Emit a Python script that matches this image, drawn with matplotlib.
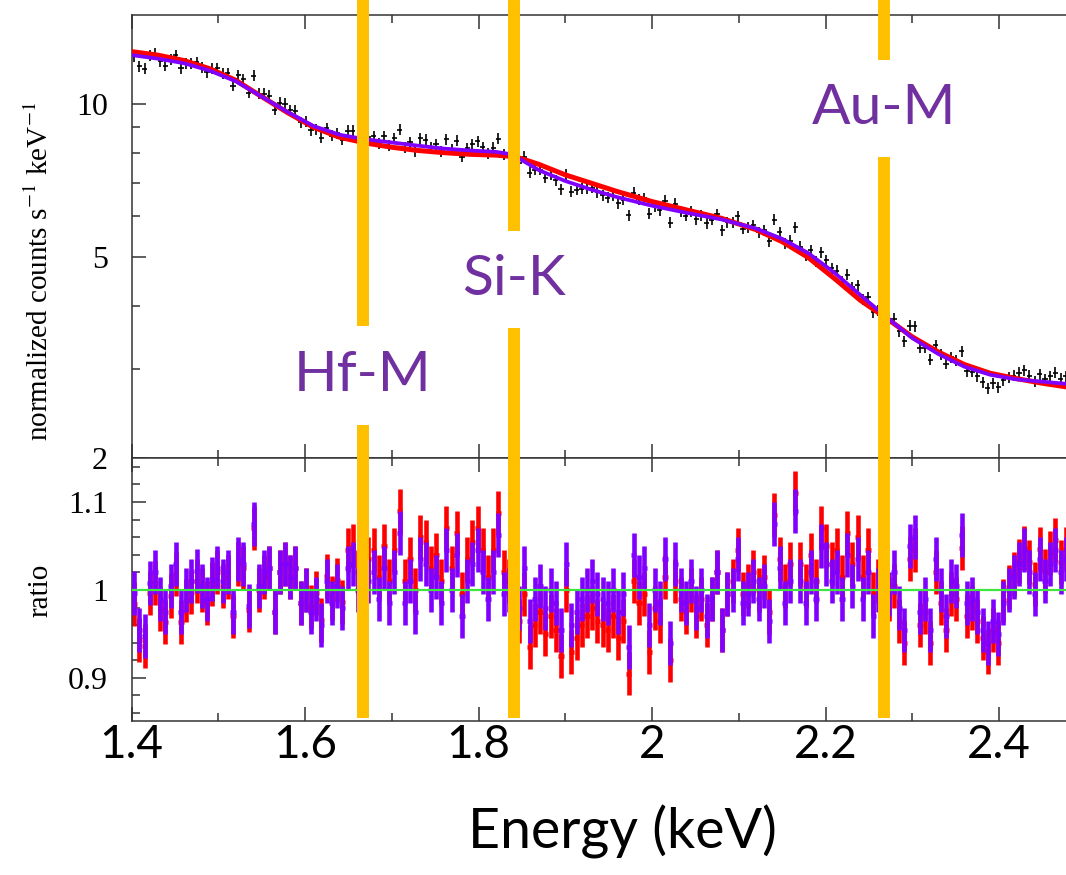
import matplotlib
matplotlib.use('Agg')
import matplotlib.pyplot as plt
import numpy as np
from matplotlib.lines import Line2D
from matplotlib.ticker import FixedLocator, MultipleLocator, NullFormatter, FuncFormatter
from matplotlib.transforms import blended_transform_factory

plt.rcParams['mathtext.fontset'] = 'stix'

# spectrum bins (keV)
energy = [
    1.403, 1.409, 1.415, 1.421, 1.427, 1.433, 1.439, 1.445, 1.451, 1.457,
    1.463, 1.469, 1.475, 1.481, 1.487, 1.493, 1.499, 1.505, 1.511, 1.517,
    1.523, 1.529, 1.535, 1.541, 1.547, 1.553, 1.559, 1.565, 1.571, 1.577,
    1.583, 1.589, 1.595, 1.601, 1.607, 1.613, 1.619, 1.625, 1.631, 1.637,
    1.643, 1.649, 1.655, 1.661, 1.667, 1.673, 1.679, 1.685, 1.691, 1.697,
    1.703, 1.709, 1.715, 1.721, 1.727, 1.733, 1.739, 1.745, 1.751, 1.757,
    1.763, 1.769, 1.775, 1.781, 1.787, 1.793, 1.799, 1.805, 1.811, 1.817,
    1.823, 1.829, 1.835, 1.841, 1.847, 1.853, 1.859, 1.865, 1.871, 1.877,
    1.883, 1.889, 1.895, 1.901, 1.907, 1.913, 1.919, 1.925, 1.931, 1.937,
    1.943, 1.949, 1.955, 1.961, 1.967, 1.973, 1.979, 1.985, 1.991, 1.997,
    2.003, 2.009, 2.015, 2.021, 2.027, 2.033, 2.039, 2.045, 2.051, 2.057,
    2.063, 2.069, 2.075, 2.081, 2.087, 2.093, 2.099, 2.105, 2.111, 2.117,
    2.123, 2.129, 2.135, 2.141, 2.147, 2.153, 2.159, 2.165, 2.171, 2.177,
    2.183, 2.189, 2.195, 2.201, 2.207, 2.213, 2.219, 2.225, 2.231, 2.237,
    2.243, 2.249, 2.255, 2.261, 2.267, 2.273, 2.279, 2.285, 2.291, 2.297,
    2.303, 2.309, 2.315, 2.321, 2.327, 2.333, 2.339, 2.345, 2.351, 2.357,
    2.363, 2.369, 2.375, 2.381, 2.387, 2.393, 2.399, 2.405, 2.411, 2.417,
    2.423, 2.429, 2.435, 2.441, 2.447, 2.453, 2.459, 2.465, 2.471, 2.477,
]

# normalized counts s^-1 keV^-1
counts = [
    12.43, 11.88, 11.76, 12.46, 12.57, 12.16, 11.90, 12.24, 12.48, 11.78,
    12.01, 12.05, 12.11, 11.83, 11.57, 11.74, 11.78, 11.49, 11.50, 10.88,
    11.42, 11.21, 10.54, 11.37, 10.48, 10.49, 10.39, 9.75, 10.06, 10.01,
    9.73, 9.71, 9.21, 9.23, 8.88, 8.93, 8.59, 8.97, 8.67, 8.77,
    8.51, 8.86, 8.87, 8.57, 8.70, 8.60, 8.65, 8.38, 8.65, 8.28,
    8.56, 8.90, 8.21, 8.40, 8.08, 8.56, 8.50, 8.23, 8.33, 8.06,
    8.53, 8.15, 8.46, 7.88, 8.19, 8.33, 8.44, 8.23, 7.98, 8.21,
    8.54, 7.96, 7.97, 7.85, 7.65, 7.88, 7.32, 7.42, 7.42, 7.16,
    7.25, 7.07, 6.79, 7.25, 6.71, 6.77, 6.81, 6.83, 6.84, 6.70,
    6.61, 6.53, 6.59, 6.38, 6.47, 6.04, 6.69, 6.49, 6.52, 6.07,
    6.29, 6.17, 6.45, 5.83, 6.36, 6.13, 6.02, 6.14, 5.93, 6.02,
    5.82, 5.91, 6.06, 5.64, 5.85, 5.84, 6.00, 5.68, 5.70, 5.76,
    5.59, 5.63, 5.36, 5.91, 5.59, 5.31, 5.37, 5.72, 5.23, 5.03,
    5.14, 4.90, 5.10, 4.92, 4.74, 4.69, 4.46, 4.60, 4.35, 4.39,
    4.12, 4.16, 3.88, 3.92, 3.86, 3.75, 3.77, 3.56, 3.40, 3.65,
    3.64, 3.30, 3.30, 3.13, 3.34, 3.21, 3.07, 3.16, 3.12, 3.25,
    2.97, 2.96, 2.90, 2.82, 2.75, 2.81, 2.76, 2.85, 2.88, 2.91,
    2.95, 2.98, 2.91, 2.83, 2.93, 2.86, 2.90, 2.95, 2.87, 2.90,
]

# data / model, purple model
ratio_purple = [
    0.996, 0.955, 0.948, 1.008, 1.020, 0.990, 0.975, 1.005, 1.030, 0.975,
    1.000, 1.010, 1.022, 1.005, 0.990, 1.012, 1.025, 1.010, 1.020, 0.975,
    1.035, 1.030, 0.982, 1.075, 1.005, 1.020, 1.025, 0.975, 1.020, 1.030,
    1.015, 1.025, 0.985, 1.000, 0.975, 0.990, 0.960, 1.010, 0.985, 1.005,
    0.980, 1.025, 1.030, 1.000, 1.020, 1.010, 1.020, 0.990, 1.025, 0.985,
    1.020, 1.065, 0.985, 1.010, 0.975, 1.035, 1.030, 1.000, 1.015, 0.985,
    1.045, 1.000, 1.040, 0.970, 1.010, 1.030, 1.045, 1.020, 0.990, 1.020,
    1.062, 0.995, 1.000, 0.990, 0.980, 1.025, 0.965, 0.990, 1.005, 0.980,
    1.000, 0.985, 0.955, 1.030, 0.960, 0.975, 0.990, 1.000, 1.010, 0.995,
    0.990, 0.985, 1.000, 0.975, 0.995, 0.935, 1.040, 1.015, 1.025, 0.960,
    1.000, 0.985, 1.035, 0.940, 1.030, 1.000, 0.985, 1.010, 0.980, 1.000,
    0.970, 0.990, 1.020, 0.955, 0.995, 1.000, 1.035, 0.985, 0.995, 1.010,
    0.990, 1.005, 0.965, 1.075, 1.025, 0.985, 1.010, 1.090, 1.010, 0.985,
    1.020, 0.990, 1.050, 1.030, 1.010, 1.020, 0.990, 1.040, 1.005, 1.035,
    0.990, 1.020, 0.970, 1.000, 1.005, 0.995, 1.020, 0.980, 0.955, 1.050,
    1.060, 0.975, 0.990, 0.955, 1.035, 1.000, 0.970, 1.010, 1.005, 1.063,
    0.985, 0.990, 0.975, 0.955, 0.940, 0.965, 0.950, 0.985, 1.000, 1.015,
    1.030, 1.045, 1.020, 0.995, 1.035, 1.010, 1.030, 1.045, 1.020, 1.035,
]

# data / model, red model
ratio_red = [
    0.984, 0.943, 0.936, 0.996, 1.008, 0.978, 0.963, 0.993, 1.018, 0.963,
    0.988, 0.998, 1.010, 1.000, 0.985, 1.007, 1.020, 1.005, 1.015, 0.970,
    1.030, 1.025, 0.977, 1.070, 1.000, 1.015, 1.025, 0.975, 1.020, 1.030,
    1.015, 1.025, 0.985, 1.000, 0.981, 0.996, 0.966, 1.016, 0.991, 1.011,
    0.986, 1.045, 1.050, 1.020, 1.040, 1.035, 1.045, 1.015, 1.050, 1.010,
    1.045, 1.090, 1.010, 1.035, 1.000, 1.060, 1.055, 1.025, 1.040, 1.010,
    1.070, 1.025, 1.065, 0.995, 1.035, 1.055, 1.070, 1.045, 1.015, 1.045,
    1.087, 1.020, 1.010, 0.990, 0.965, 0.995, 0.935, 0.960, 0.975, 0.950,
    0.970, 0.955, 0.925, 1.000, 0.930, 0.945, 0.960, 0.970, 0.980, 0.965,
    0.960, 0.955, 0.970, 0.945, 0.965, 0.905, 1.010, 0.985, 0.995, 0.930,
    0.980, 0.965, 1.015, 0.920, 1.010, 0.990, 0.975, 1.000, 0.970, 0.990,
    0.960, 0.990, 1.020, 0.955, 0.995, 1.010, 1.045, 0.995, 1.005, 1.020,
    1.000, 1.015, 0.975, 1.085, 1.035, 1.005, 1.030, 1.110, 1.030, 1.005,
    1.040, 1.010, 1.070, 1.050, 1.030, 1.045, 1.015, 1.065, 1.030, 1.060,
    1.015, 1.045, 0.995, 1.010, 1.005, 0.990, 1.005, 0.965, 0.940, 1.035,
    1.045, 0.960, 0.975, 0.940, 1.020, 0.985, 0.955, 0.995, 0.990, 1.048,
    0.970, 0.980, 0.965, 0.945, 0.930, 0.955, 0.940, 0.988, 1.003, 1.018,
    1.033, 1.048, 1.032, 1.007, 1.047, 1.022, 1.042, 1.057, 1.032, 1.047,
]

# model curves
model_energy = [1.40, 1.43, 1.46, 1.49, 1.52, 1.55, 1.58, 1.61, 1.64, 1.67,
                1.70, 1.73, 1.76, 1.79, 1.82, 1.84, 1.85, 1.87, 1.90, 1.93,
                1.96, 2.00, 2.04, 2.08, 2.12, 2.15, 2.18, 2.21, 2.24, 2.27,
                2.30, 2.33, 2.36, 2.39, 2.42, 2.45, 2.48]
model_purple = [12.5, 12.3, 12.05, 11.65, 11.1, 10.35, 9.65, 9.05, 8.7, 8.52,
                8.4, 8.28, 8.17, 8.1, 8.05, 7.95, 7.75, 7.4, 7.05, 6.78,
                6.55, 6.3, 6.1, 5.92, 5.68, 5.42, 5.08, 4.65, 4.2, 3.8,
                3.45, 3.21, 3.03, 2.92, 2.86, 2.83, 2.80]
model_red = [12.7, 12.5, 12.2, 11.75, 11.15, 10.35, 9.62, 9.0, 8.6, 8.38,
             8.22, 8.1, 8.02, 7.96, 7.93, 7.88, 7.8, 7.6, 7.25, 6.98,
             6.72, 6.42, 6.18, 5.95, 5.65, 5.35, 4.98, 4.53, 4.1, 3.78,
             3.47, 3.24, 3.06, 2.94, 2.87, 2.81, 2.76]

edge_names = ['Hf-M', 'Si-K', 'Au-M']
edge_energy = [1.667, 1.841, 2.268]

# figure layout in pixels
W, H = 1066, 875
x0 = 131.5
fig = plt.figure(figsize=(W / 100, H / 100), dpi=100)
ax1 = fig.add_axes([x0 / W, 1 - 458 / H, (W - x0) / W, (458 - 15) / H])
ax2 = fig.add_axes([x0 / W, 1 - 721 / H, (W - x0) / W, (721 - 458) / H],
                   sharex=ax1)

purple = '#8000ff'
spine_c = '#333333'

# top panel
ax1.errorbar(energy, counts, xerr=0.003, yerr=np.array(counts) * 0.025,
             fmt='none', ecolor='black', elinewidth=1.2, zorder=2)
ax1.plot(model_energy, model_red, color='red', lw=3.6, zorder=3)
ax1.plot(model_energy, model_purple, color=purple, lw=2.7, zorder=4)
ax1.set_yscale('log')
ax1.set_ylim(2, 15)
ax1.set_xlim(1.4, 1.4 + (W - x0) / 867.5)
ax1.yaxis.set_major_locator(FixedLocator([2, 5, 10]))
ax1.yaxis.set_major_formatter(FuncFormatter(lambda v, p: '%g' % v))
ax1.yaxis.set_minor_locator(FixedLocator([3, 4, 6, 7, 8, 9]))
ax1.yaxis.set_minor_formatter(NullFormatter())

# ratio panel
ax2.errorbar(energy, ratio_red, xerr=0.003, yerr=0.025, fmt='none',
             ecolor='red', elinewidth=3.3, zorder=2)
ax2.errorbar(energy, ratio_purple, xerr=0.003, yerr=0.025, fmt='none',
             ecolor=purple, elinewidth=3.3, zorder=3)
ax2.axhline(1.0, color='#3ee63e', lw=1.6, zorder=5)
ax2.set_ylim(0.851, 1.15)
ax2.yaxis.set_major_locator(FixedLocator([0.9, 1.0, 1.1]))
ax2.yaxis.set_major_formatter(FuncFormatter(lambda v, p: '%g' % v))
ax2.yaxis.set_minor_locator(MultipleLocator(0.02))
ax2.xaxis.set_major_formatter(FuncFormatter(lambda v, p: '%g' % round(v, 2)))

for ax in (ax1, ax2):
    ax.xaxis.set_major_locator(MultipleLocator(0.2))
    ax.xaxis.set_minor_locator(MultipleLocator(0.1))
    ax.spines['right'].set_visible(False)
    for s in ('left', 'top', 'bottom'):
        ax.spines[s].set_linewidth(1.1)
        ax.spines[s].set_color(spine_c)
    ax.tick_params(which='both', direction='in', top=True, bottom=True,
                   right=False, color=spine_c, width=1.1)
    ax.tick_params(which='major', length=10)
    ax.tick_params(which='minor', length=5.8)
    ax.tick_params(axis='y', which='major', pad=17, labelsize=23)
    for lab in ax.get_yticklabels():
        lab.set_family('Liberation Serif')

ax1.tick_params(axis='x', labelbottom=False)
ax2.tick_params(axis='x', labelsize=33, pad=2)
for lab in ax2.get_xticklabels():
    lab.set_family('Lato')

fig.text(40 / W, 1 - 271 / H, r'normalized counts s$^{-1}$ keV$^{-1}$',
         rotation=90, ha='center', va='center', fontsize=21,
         family='Liberation Serif')
fig.text(40 / W, 1 - 590 / H, 'ratio', rotation=90, ha='center',
         va='center', fontsize=21, family='Liberation Serif')
fig.text(622 / W, 1 - 832 / H, 'Energy (keV)', ha='center', va='center',
         fontsize=40, family='Lato')

# absorption edge markers
trans = blended_transform_factory(ax1.transData, fig.transFigure)
gaps = [(326, 425), (231, 328), (60, 157)]
for name, e, (g0, g1) in zip(edge_names, edge_energy, gaps):
    for a, b in ((0, g0), (g1, 718)):
        fig.add_artist(Line2D([e, e], [1 - a / H, 1 - b / H], transform=trans,
                              color='#ffc000', lw=8.6, solid_capstyle='butt',
                              zorder=10))
    fig.text(e, 1 - (g0 + g1) / 2 / H, name, transform=trans, ha='center',
             va='center', fontsize=41, color='#7030a0', family='Lato',
             zorder=11)

fig.savefig('out.png', dpi=100)
